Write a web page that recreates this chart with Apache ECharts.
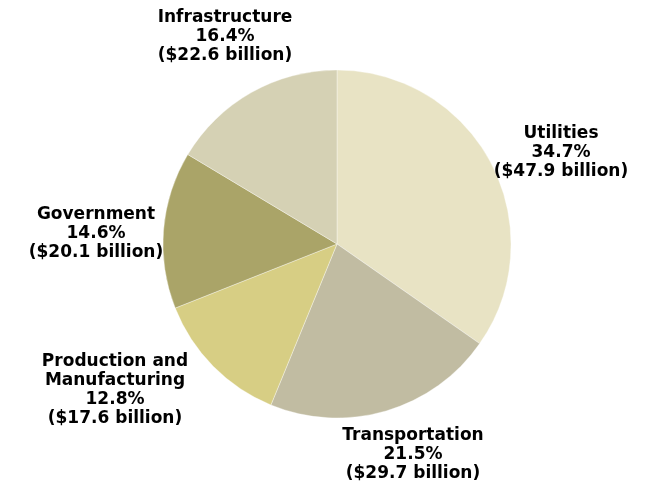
<!DOCTYPE html>
<html>
<head>
<meta charset="utf-8">
<script src="https://cdn.jsdelivr.net/npm/echarts@6/dist/echarts.min.js"></script>
<style>
  html, body { margin: 0; padding: 0; background: #ffffff; }
  #chart { width: 656px; height: 485px; }
</style>
</head>
<body>
<div id="chart"></div>
<script>
// Spending by sector, clockwise from 12 o'clock
const categories = ['Utilities', 'Transportation', 'Production and\nManufacturing', 'Government', 'Infrastructure'];
const shares = [34.7, 21.5, 12.8, 14.6, 16.4];          // percent of total
const billions = [47.9, 29.7, 17.6, 20.1, 22.6];        // dollars, billions

// Slice fills and where each label block sits (centre of the text block)
const sliceColors = ['#e8e3c4', '#c1bca2', '#d7ce84', '#aaa468', '#d5d1b4'];
const labelAnchors = [[561, 153], [413, 455], [115, 390], [96, 234], [225, 37]];

const chart = echarts.init(document.getElementById('chart'), null, { renderer: 'canvas' });

const data = categories.map((name, i) => ({
  name: name,
  value: shares[i],
  billion: billions[i],
  itemStyle: { color: sliceColors[i] }
}));

chart.setOption({
  animation: false,
  series: [{
    type: 'pie',
    center: [337, 244],
    radius: [0, 174],
    startAngle: 90,
    clockwise: true,
    avoidLabelOverlap: false,
    silent: true,
    itemStyle: { borderColor: 'rgba(255,255,255,0.35)', borderWidth: 1 },
    label: {
      show: true,
      position: 'outside',
      color: '#000000',
      fontFamily: 'DejaVu Sans',
      fontWeight: 'bold',
      fontSize: 17,
      lineHeight: 19,
      align: 'center',
      formatter: p => p.name + '\n' + p.value.toFixed(1) + '%\n($' + p.data.billion.toFixed(1) + ' billion)'
    },
    labelLine: { show: false },
    labelLayout: p => ({
      x: labelAnchors[p.dataIndex][0],
      y: labelAnchors[p.dataIndex][1],
      align: 'center',
      verticalAlign: 'middle',
      hideOverlap: false
    }),
    data: data
  }]
});
</script>
</body>
</html>
